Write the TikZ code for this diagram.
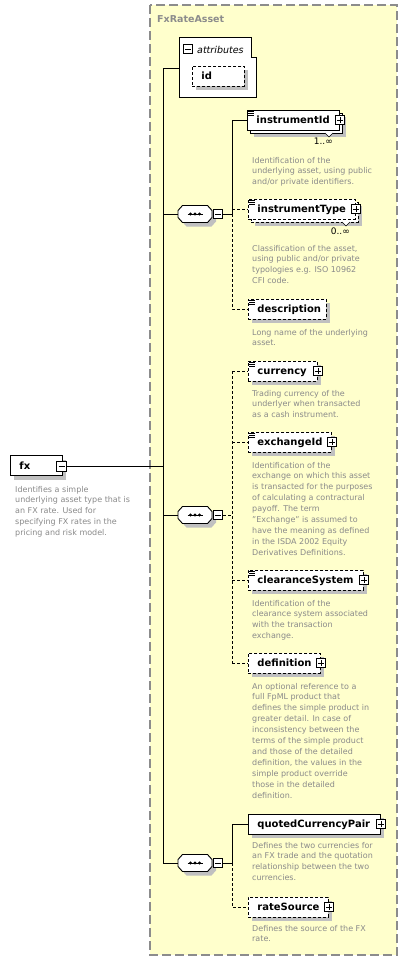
\documentclass[tikz,border=0pt]{standalone}
\usepackage{fontspec}
\setmainfont{DejaVu Sans}
\definecolor{bgyel}{HTML}{FFFFCC}
\definecolor{grpgray}{HTML}{8C8C8C}
\definecolor{desctext}{HTML}{8A8A8A}
\definecolor{shd}{HTML}{C0C0C0}
\newcommand{\lbx}[2]{\makebox[#1pt][l]{#2}}
\begin{document}
\begin{tikzpicture}[x=1pt,y=-1pt,
  wire/.style={line width=0.9pt},
  owire/.style={line width=0.9pt, dash pattern=on 3pt off 2pt},
  shadowed/.style={preaction={fill=shd, draw=none, transform canvas={shift={(4pt,-4pt)}}}},
  boxbase/.style={draw=black, fill=white, line width=0.9pt, minimum height=20pt,
    text height=8pt, text depth=1pt, inner xsep=9pt, inner ysep=0pt, anchor=west,
    font=\bfseries\fontsize{10}{12}\selectfont},
  box/.style={shadowed, boxbase},
  obox/.style={shadowed, boxbase, dash pattern=on 3pt off 2pt},
  sbox/.style={preaction={fill=shd, draw=none, transform canvas={shift={(7pt,-7pt)}}},
    preaction={draw=black, fill=white, line width=0.9pt, solid, transform canvas={shift={(3pt,-3pt)}}},
    boxbase},
  sobox/.style={preaction={fill=shd, draw=none, transform canvas={shift={(7pt,-7pt)}}},
    preaction={draw=black, fill=white, line width=0.9pt, dash pattern=on 3pt off 2pt, transform canvas={shift={(3pt,-3pt)}}},
    boxbase, dash pattern=on 3pt off 2pt},
  desc/.style={anchor=north west, inner sep=0pt, align=left, text=desctext,
    font=\fontsize{8}{10.9}\selectfont},
  pmbox/.style={draw=black, fill=white, line width=0.9pt, minimum size=9.5pt, inner sep=0pt},
  plusb/.style={pmbox, path picture={\draw[line width=0.8pt]
      (path picture bounding box.center) ++(-3pt,0pt) -- ++(6pt,0pt)
      (path picture bounding box.center) ++(0pt,-3pt) -- ++(0pt,6pt);}},
  minusb/.style={pmbox, path picture={\draw[line width=0.8pt]
      (path picture bounding box.center) ++(-3pt,0pt) -- ++(6pt,0pt);}},
  seqn/.style={inner sep=0pt, minimum width=34pt, minimum height=17pt},
  mult/.style={anchor=north east, inner sep=0pt, font=\fontsize{9}{10}\selectfont}
]
\useasboundingbox (0,0) rectangle (408,962);
\fill[white] (0,0) rectangle (408,962);

% group
\draw[grpgray, line width=1.2pt, dash pattern=on 9pt off 4pt, fill=bgyel] (150,5) rectangle (397,955);
\node[anchor=base west, inner sep=0pt, text=grpgray, font=\bfseries\fontsize{9.5}{11}\selectfont] (title) at (157,22.7) {FxRateAsset};

% attributes
\draw[fill=white, line width=0.9pt] (179,37) -- (251,37) -- (251,57) -- (256,57) -- (256,97) -- (179,97) -- cycle;
\coordinate (attrw) at (179,68);
\node[minusb] (attr-m) at (188,49) {};
\node[anchor=base west, inner sep=0pt, font=\itshape\fontsize{9.5}{11}\selectfont] (attrlbl) at (197,53) {attributes};
\node[obox] (id) at (192,76) {\lbx{34}{id}};

% fx
\node[box] (fx) at (10,465.5) {\lbx{34}{fx}};
\node[minusb, minimum size=10.5pt] (fx-m) at (61.5,466.5) {};
\node[desc] (fxd) at (15,484.2) {\strut Identifies a simple\\underlying asset type that is\\an FX rate. Used for\\specifying FX rates in the\\pricing and risk model.};

% elements
\node[sbox] (iid) at (247,120) {\lbx{74}{instrumentId}};
\node[sobox] (ity) at (248,209) {\lbx{89}{instrumentType}};
\node[obox] (dsc) at (248,309) {\lbx{60}{description}};
\node[obox] (cur) at (248,371) {\lbx{51}{currency}};
\node[obox] (exc) at (248,442) {\lbx{65}{exchangeId}};
\node[obox] (clr) at (248,580) {\lbx{97}{clearanceSystem}};
\node[obox] (def) at (248,663) {\lbx{54}{definition}};
\node[box] (qcp) at (248,824) {\lbx{114}{quotedCurrencyPair}};
\node[obox] (rsrc) at (248,907) {\lbx{62}{rateSource}};

% notches and multiplicities
\draw[line width=0.6pt, fill=white] (325,133) -- (329,137) -- (333,133);
\draw[line width=0.6pt, fill=white] (342,222) -- (346,226) -- (350,222);
\node[mult] (iidmult) at (333,137.5) {1..∞};
\node[mult] (itymult) at (350,227.5) {0..∞};

% icons
\foreach \n in {iid,ity,dsc,cur,exc,clr}{
  \foreach \k in {2,4,6}
    \draw[line width=0.7pt] ([shift={(1,\k)}]\n.north west) -- ++(6,0);
}
% plus boxes
\foreach \n in {iid,ity,cur,exc,clr,def,qcp,rsrc}
  \node[plusb] (\n-p) at (\n.east) {};

% descriptions
\node[desc] (iidd) at (252,155.2) {\strut Identification of the\\underlying asset, using public\\and/or private identifiers.};
\node[desc] (ityd) at (252,243.2) {\strut Classification of the asset,\\using public and/or private\\typologies e.g. ISO 10962\\CFI code.};
\node[desc] (dscd) at (252,327.2) {\strut Long name of the underlying\\asset.};
\node[desc] (curd) at (252,388.2) {\strut Trading currency of the\\underlyer when transacted\\as a cash instrument.};
\node[desc] (excd) at (252,460.2) {\strut Identification of the\\exchange on which this asset\\is transacted for the purposes\\of calculating a contractural\\payoff. The term\\"Exchange" is assumed to\\have the meaning as defined\\in the ISDA 2002 Equity\\Derivatives Definitions.};
\node[desc] (clrd) at (252,598.2) {\strut Identification of the\\clearance system associated\\with the transaction\\exchange.};
\node[desc] (defd) at (252,681.2) {\strut An optional reference to a\\full FpML product that\\defines the simple product in\\greater detail. In case of\\inconsistency between the\\terms of the simple product\\and those of the detailed\\definition, the values in the\\simple product override\\those in the detailed\\definition.};
\node[desc] (qcpd) at (252,840.2) {\strut Defines the two currencies for\\an FX trade and the quotation\\relationship between the two\\currencies.};
\node[desc] (rsrcd) at (252,923.2) {\strut Defines the source of the FX\\rate.};

% sequences
\foreach \n/\y in {s1/214, s2/515, s3/863}{
  \node[seqn] (\n) at (195,\y) {};
  \fill[shd] ([shift={(4,4)}]\n.center) +(-17,-3.5) -- +(-12.5,-8.5) -- +(12.5,-8.5) -- +(17,-3.5)
     -- +(17,3.5) -- +(12.5,8.5) -- +(-12.5,8.5) -- +(-17,3.5) -- cycle;
  \draw[fill=white, line width=0.9pt] (\n.center) +(-17,-3.5) -- +(-12.5,-8.5) -- +(12.5,-8.5) -- +(17,-3.5)
     -- +(17,3.5) -- +(12.5,8.5) -- +(-12.5,8.5) -- +(-17,3.5) -- cycle;
  \draw[line width=1pt] ([xshift=-7.5pt]\n.center) -- ([xshift=7.5pt]\n.center);
  \foreach \d in {-4.5,0,4.5} \fill ([xshift=\d pt]\n.center) circle (1.7pt);
  \node[minusb] (\n-m) at (218,\y) {};
}

% trunk
\coordinate (ta) at (163,68);
\coordinate (tz) at (163,863);
\draw[wire] (ta) -- (tz);
\draw[wire] (ta) -- (attrw);
\draw[wire] (fx-m.east) -- (fx-m.east -| ta);
\foreach \n in {s1,s2,s3} \draw[wire] (\n.west -| ta) -- (\n.west);

% sequence 1
\coordinate (v1) at (232,214);
\draw[wire] (s1-m.east) -- (v1) |- (iid.west);
\draw[owire] (v1) |- (ity.west);
\draw[owire] (v1) |- (dsc.west);

% sequence 2
\coordinate (v2) at (232,515);
\draw[owire] (s2-m.east) -- (v2);
\draw[owire] (v2 |- cur.west) -- (v2 |- def.west);
\foreach \n in {cur,exc,clr,def} \draw[owire] (v2 |- \n.west) -- (\n.west);

% sequence 3
\coordinate (v3) at (232,863);
\draw[wire] (s3-m.east) -- (v3) |- (qcp.west);
\draw[owire] (v3) |- (rsrc.west);
\end{tikzpicture}
\end{document}
